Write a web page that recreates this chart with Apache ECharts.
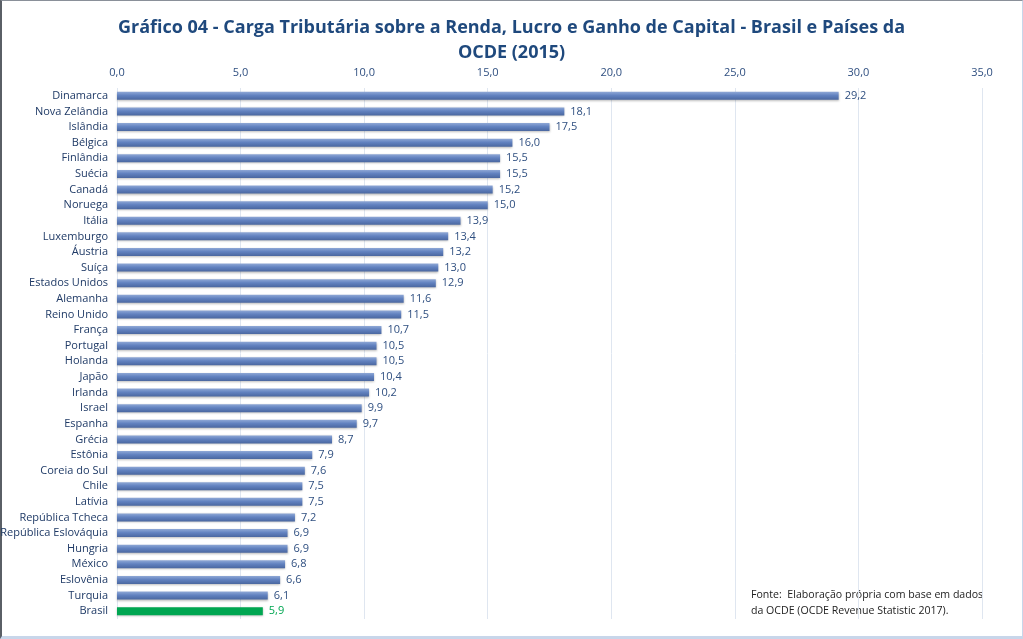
<!DOCTYPE html>
<html><head><meta charset="utf-8">
<script src="https://cdn.jsdelivr.net/npm/echarts@6/dist/echarts.min.js"></script>
<style>
html,body{margin:0;padding:0;background:#fff;}
#wrap{position:absolute;left:0;top:0;width:1023px;height:639px;box-sizing:border-box;border-left:2px solid #5a5f66;border-top:1px solid #8a9099;border-right:1px solid #c8d6ea;border-bottom:3px solid #c8d6ea;}
#c{position:absolute;left:0;top:0;width:1023px;height:639px;}
</style></head>
<body><div id="wrap"></div><div id="c"></div>
<script>
const categories = ["Dinamarca","Nova Zelândia","Islândia","Bélgica","Finlândia","Suécia","Canadá","Noruega","Itália","Luxemburgo","Áustria","Suíça","Estados Unidos","Alemanha","Reino Unido","França","Portugal","Holanda","Japão","Irlanda","Israel","Espanha","Grécia","Estônia","Coreia do Sul","Chile","Latívia","República Tcheca","República Eslováquia","Hungria","México","Eslovênia","Turquia","Brasil"];
const values = [29.2,18.1,17.5,16.0,15.5,15.5,15.2,15.0,13.9,13.4,13.2,13.0,12.9,11.6,11.5,10.7,10.5,10.5,10.4,10.2,9.9,9.7,8.7,7.9,7.6,7.5,7.5,7.2,6.9,6.9,6.8,6.6,6.1,5.9];
const highlight = "Brasil";
const titleText = "Gráfico 04 - Carga Tributária sobre a Renda, Lucro e Ganho de Capital - Brasil e Países da\nOCDE (2015)";
const sourceText = "Fonte:  Elaboração própria com base em dados\nda OCDE (OCDE Revenue Statistic 2017).";

const FONT = "'Open Sans',sans-serif";
const blueGrad = new echarts.graphic.LinearGradient(0,0,0,1,[
  {offset:0,color:'#8fa8d6'},{offset:0.45,color:'#6282c0'},{offset:1,color:'#4a67a0'}]);
const chart = echarts.init(document.getElementById('c'), null, {renderer:'canvas'});
chart.setOption({
  backgroundColor:'transparent',
  animation:false,
  title:{text:titleText,left:'center',top:10,textStyle:{fontFamily:FONT,fontWeight:'bold',fontSize:18,color:'#1f497d',lineHeight:25}},
  grid:{left:117,right:41,top:88,bottom:20,containLabel:false,outerBoundsMode:'none'},
  xAxis:{type:'value',position:'top',min:0,max:35,interval:5,
    axisLine:{show:false},axisTick:{show:false},
    axisLabel:{fontFamily:FONT,fontSize:11,color:'#2f4f80',margin:10,formatter:v=>v.toFixed(1).replace('.',',')},
    splitLine:{lineStyle:{color:'#dfe6f0',width:1}}},
  yAxis:{type:'category',inverse:true,data:categories,
    axisLine:{show:false},axisTick:{show:false},
    axisLabel:{fontFamily:FONT,fontSize:11,color:'#1f3a66',margin:9}},
  series:[{type:'bar',barWidth:8,
    data:values.map((v,i)=>({value:v,itemStyle:{color:categories[i]===highlight?'#00a651':blueGrad},
      label:{color:categories[i]===highlight?'#00a651':'#2f4f80'}})),
    itemStyle:{shadowColor:'rgba(0,0,0,0.25)',shadowBlur:2,shadowOffsetY:1},
    label:{show:true,position:'right',distance:6,fontFamily:FONT,fontSize:11,formatter:p=>p.value.toFixed(1).replace('.',',')}}],
  graphic:[{type:'text',left:751,top:587,style:{text:sourceText,fontFamily:FONT,fontSize:10.6,fill:'#222',lineHeight:16}}]
});
</script></body></html>
